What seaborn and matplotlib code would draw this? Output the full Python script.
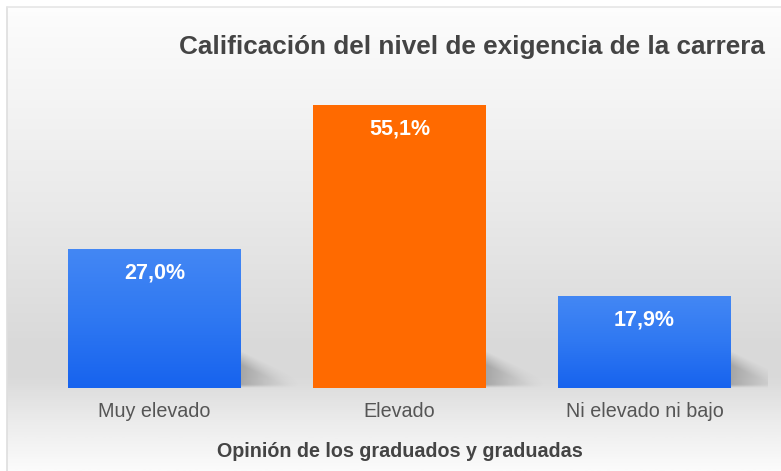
import numpy as np
import seaborn as sns
import matplotlib.pyplot as plt
from matplotlib.colors import LinearSegmentedColormap
from matplotlib.patches import Rectangle

categorias = ["Muy elevado", "Elevado", "Ni elevado ni bajo"]
porcentajes = [27.0, 55.1, 17.9]
etiquetas = ["27,0%", "55,1%", "17,9%"]
colores = ["#2f78f2", "#ff6a00", "#2f78f2"]

titulo = "Calificación del nivel de exigencia de la carrera"
eje_x = "Opinión de los graduados y graduadas"

sns.set_theme(style="white")
plt.rcParams["font.family"] = ["Liberation Sans", "DejaVu Sans"]

W, H = 781, 471
fig = plt.figure(figsize=(W / 100, H / 100), dpi=100)

# fondo degradado (blanco arriba, gris hacia la base, claro abajo)
bg = fig.add_axes([0, 0, 1, 1], zorder=-10)
bg.axis("off")
yy = np.linspace(0, 1, 300)
stops = [(0.0, "#ffffff"), (0.03, "#fcfcfc"), (0.12, "#f8f8f8"), (0.45, "#e9e9e9"),
         (0.72, "#dadada"), (0.80, "#d9d9d9"), (0.90, "#ececec"), (1.0, "#fbfbfb")]
cmap_bg = LinearSegmentedColormap.from_list("bg", stops)
bg.imshow(yy[:, None], aspect="auto", cmap=cmap_bg, extent=[0, 1, 1, 0])
bg.set_xlim(0, 1)
bg.set_ylim(1, 0)
bg.add_patch(Rectangle((0, 0), 1, 7 / H, facecolor="white", edgecolor="none"))
bg.add_patch(Rectangle((0, 0), 7 / W, 1, facecolor="white", edgecolor="none"))
bg.plot([7 / W, 7 / W], [7 / H, 1], color="#dedede", lw=1.2)
bg.plot([7 / W, 1], [7 / H, 7 / H], color="#e6e6e6", lw=1.2)

px_unit = 283 / 55.1
ymax = 63.0
ax = fig.add_axes([32 / W, 83 / H, 735 / W, ymax * px_unit / H])
ax.patch.set_alpha(0)

sns.barplot(x=categorias, y=porcentajes, hue=categorias, palette=colores,
            legend=False, width=0.706, saturation=1, linewidth=0, ax=ax)
ax.set_xlim(-0.5, 2.5)
ax.set_ylim(0, ymax)
sns.despine(ax=ax, left=True, bottom=True)
ax.set_yticks([])
ax.set_ylabel("")

# sombra difusa: alfa en una malla (u horizontal, v vertical)
u = np.linspace(0, 1, 120)[None, :]
v = np.linspace(0, 1, 80)[:, None]
borde = 0.95 - 0.75 * u
alfa = 0.42 * (1 - u) ** 1.4 * np.clip((borde - v) / 0.35, 0, 1) * np.clip(v / 0.08, 0, 1)
sombra = np.zeros((80, 120, 4))
sombra[..., :3] = 0.35
sombra[..., 3] = alfa

cmap_azul = LinearSegmentedColormap.from_list("azul", ["#1763ee", "#2f78f2", "#4387f4"])
sh_w = 60 / 245
sh_h = 40 / px_unit
for bar, txt, col in zip(ax.patches, etiquetas, colores):
    x0, w, h = bar.get_x(), bar.get_width(), bar.get_height()
    ax.imshow(sombra, aspect="auto", origin="lower", interpolation="bilinear",
              extent=[x0 + w - 0.01, x0 + w + sh_w, 0, sh_h], zorder=1)
    bar.set_zorder(2)
    if col != "#ff6a00":
        img = ax.imshow(np.linspace(0, 1, 100)[:, None], aspect="auto", cmap=cmap_azul,
                        extent=[x0, x0 + w, 0, h], origin="lower", zorder=3)
        img.set_clip_path(bar)
    ax.annotate(txt, (x0 + w / 2, h), xytext=(0, -17), textcoords="offset points",
                ha="center", va="center", color="white", fontsize=15.5,
                fontweight="bold", zorder=5)
ax.set_xlim(-0.5, 2.5)
ax.set_ylim(0, ymax)

ax.tick_params(axis="x", length=0, pad=10, labelsize=14.2, labelcolor="#555555")
ax.set_xlabel(eje_x, fontsize=14.2, fontweight="bold", color="#444444", labelpad=15)

fig.text(472 / W, 1 - 47 / H, titulo, ha="center", va="center", fontsize=18.8,
         fontweight="bold", color="#444444")

fig.savefig("out.png", dpi=100)
